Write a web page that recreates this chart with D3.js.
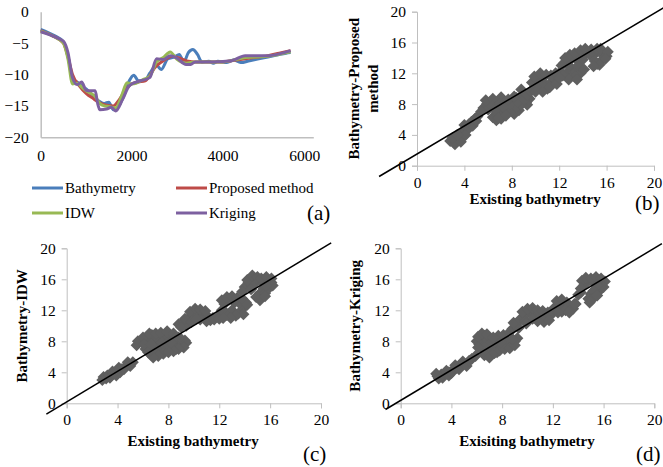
<!DOCTYPE html>
<html>
<head>
<meta charset="utf-8">
<script src="https://cdn.jsdelivr.net/npm/d3@7"></script>
<style>
  body { margin: 0; background: #fff; }
  svg text { font-family: "Liberation Serif", "Times New Roman", serif; fill: #000; }
  .axis path, .axis line { stroke: #bfbfbf; }
  .axis text { font-size: 15.5px; font-family: "Liberation Serif", serif; }
  .title { font-weight: bold; font-size: 15px; }
  .panel { font-size: 21px; }
</style>
</head>
<body>
<div id="chart"></div>
<script>

// panel (a): profile along the transect, x = distance
var distBathy = [0, 300, 500, 600, 700, 800, 900, 1000, 1200, 1400, 1500, 1600, 1750, 1850, 1950, 2050, 2150, 2300, 2400, 2550, 2650, 2800, 2950, 3050, 3150, 3250, 3350, 3450, 3550, 3700, 3800, 3900, 4100, 4250, 4400, 4600, 4800, 5000, 5200, 5400, 5500];
var depthBathy = [-2.8, -3.8, -4.8, -7, -10.8, -11.2, -11.8, -12.3, -13.8, -14.6, -14.4, -15.6, -14.6, -13, -11, -10.1, -11, -10.9, -9.8, -8.5, -9.2, -7.5, -7.2, -6.8, -8, -6.5, -6.0, -6.8, -8, -7.9, -8.2, -7.9, -8.1, -7.7, -8.1, -7.8, -7.5, -7.2, -6.9, -6.6, -6.5];

var distProposed = [0, 250, 500, 600, 700, 850, 1000, 1150, 1300, 1450, 1600, 1700, 1800, 1900, 2000, 2150, 2300, 2400, 2500, 2600, 2700, 2900, 3100, 3250, 3400, 3700, 4000, 4300, 4500, 4800, 5000, 5250, 5500];
var depthProposed = [-3, -3.8, -5, -7.2, -10, -11.8, -13, -13.8, -14.5, -14.9, -15, -14.3, -13.2, -12.2, -11.5, -11.2, -11, -10.2, -9, -8.3, -7.8, -7.1, -7.5, -7.9, -8, -8, -8, -7.7, -7.5, -7.2, -7, -6.6, -6.2];

var distIDW = [0, 300, 500, 600, 700, 800, 900, 1000, 1100, 1200, 1300, 1400, 1500, 1650, 1750, 1800, 1900, 2000, 2100, 2250, 2400, 2550, 2700, 2850, 3000, 3200, 3400, 3700, 4000, 4300, 4500, 5000, 5500];
var depthIDW = [-3.1, -4, -5, -7.5, -11.5, -11.4, -12, -12.6, -13, -13.5, -14.6, -15, -15.1, -15.3, -14, -13, -11.3, -11.5, -11.4, -10.8, -10.3, -8, -7.3, -6.4, -7.6, -8.2, -8, -8, -8, -7.6, -7.3, -7.1, -6.4];

var distKriging = [0, 400, 500, 600, 700, 800, 900, 1000, 1100, 1200, 1250, 1300, 1450, 1550, 1650, 1800, 1950, 2100, 2200, 2400, 2550, 2700, 2850, 3000, 3200, 3300, 3400, 3700, 4200, 4500, 5000, 5500];
var depthKriging = [-3.2, -4.3, -4.7, -6.5, -10.5, -11.6, -11.2, -12.5, -12.6, -12.6, -14.5, -15.6, -15.5, -15.2, -15.8, -14, -11.8, -11.2, -11, -10.5, -7.5, -7.6, -7.0, -7.4, -8.4, -8.4, -8, -8, -7.8, -7.0, -7, -6.2];

var profileXTicks = [0, 2000, 4000, 6000];
var profileYTicks = [0, -5, -10, -15, -20];
var seriesNames = ["Bathymetry", "Proposed method", "IDW", "Kriging"];
var seriesColors = ["#4a7ebb", "#be4b48", "#98b954", "#7d60a0"];

// panels (b)-(d): existing bathymetry vs predicted depth
var scatterTicks = [0, 4, 8, 12, 16, 20];

var proposedPoints = [
  [2.8,3.2],[3.1,3.0],[3.3,3.5],[3.6,3.4],[3.5,3.9],[3.9,3.8],[3.8,4.3],[4.1,4.5],[4.2,5.0],[4.4,5.4],
  [4.6,5.7],[4.9,6.1],[5.1,6.4],[3.2,2.8],[3.7,3.1],[4.1,4.0],
  [3.0,3.6],[3.4,4.0],[4.4,4.9],[4.7,5.2],[5.0,5.8],[4.0,5.3],
  [5.6,7.5],[5.9,8.0],[6.2,8.3],[6.5,8.1],[6.9,8.4],[6.0,7.3],[7.1,8.9],
  [5.4,7.0],[5.8,8.5],[6.4,8.7],[6.3,7.7],[6.7,7.6],[7.0,7.2],[7.0,8.0],[7.4,8.2],[7.8,7.5],
  [8.1,8.4],[8.4,8.8],[8.7,8.9],[9.2,8.2],[9.5,8.7],[6.7,5.9],[7.1,6.1],[8.2,6.7],[8.6,7.2],[9.3,7.9],
  [6.4,6.3],[6.8,6.6],[7.2,6.9],[7.6,7.0],[8.0,7.2],[8.4,7.6],[8.8,7.9],[6.6,7.2],[7.3,7.6],[7.9,8.0],
  [8.5,8.3],[9.0,8.6],[7.7,8.6],[8.2,9.0],[8.8,9.9],[9.3,9.2],[9.6,9.7],[6.9,6.2],[7.5,6.5],
  [9.7,10.8],[10.1,11.2],[10.3,10.2],[10.7,10.7],[11.0,10.0],[11.3,10.8],[11.6,11.3],[10.5,11.5],[11.9,11.5],[10.0,10.3],
  [9.9,11.6],[10.4,12.0],[10.9,11.8],[11.3,11.7],[11.7,12.0],[11.2,10.2],[10.6,9.6],[10.0,9.6],[11.8,10.6],
  [12.1,12.2],[12.4,13.3],[12.7,13.8],[13.1,14.0],[13.5,14.3],[13.9,14.5],[14.3,14.7],[14.7,15.1],
  [12.6,12.0],[13.0,12.5],[13.4,12.2],[13.8,12.0],[13.3,11.6],[12.3,11.7],[12.8,13.0],[13.6,13.6],
  [12.2,13.0],[12.5,14.0],[12.9,14.4],[13.3,14.6],[13.8,15.0],[14.2,15.2],[14.6,14.4],[14.0,13.8],
  [13.6,13.0],[14.1,12.5],[12.8,11.2],[13.5,11.2],[12.0,11.4],
  [15.0,14.5],[15.4,14.8],[15.8,14.6],[16.0,14.2],[15.6,13.7],[15.2,13.2],[15.0,13.6],[15.2,15.2],
  [15.5,15.2],[16.1,14.8],[15.9,13.9],[15.4,13.1],[14.9,12.9]
];

var idwPoints = [
  [2.9,3.4],[3.2,3.6],[3.5,3.6],[3.7,3.9],[3.4,3.3],[4.0,4.1],[4.3,4.4],[4.6,4.7],[4.9,5.0],[5.2,5.3],[3.1,3.2],[3.9,3.6],
  [2.8,3.0],[3.6,4.1],[4.2,4.0],[4.5,4.4],[4.8,5.3],[5.0,4.8],[4.1,4.6],
  [5.5,7.5],[5.9,7.9],[6.3,8.5],[6.7,8.8],[6.4,7.4],[6.8,7.9],[7.2,8.3],[7.6,8.7],[8.0,8.9],[7.8,8.2],
  [8.3,8.0],[8.7,7.8],[9.1,7.6],[9.3,8.1],[6.6,6.3],[7.0,6.6],[7.4,6.8],[7.8,7.1],[8.2,7.3],[8.6,7.0],
  [7.3,7.5],[6.9,7.1],[6.2,7.0],[7.6,6.4],[8.8,8.5],
  [5.6,8.0],[6.0,8.5],[6.1,7.6],[6.5,9.0],[7.0,9.0],[7.4,9.1],[7.9,9.3],[8.4,9.0],[8.6,8.5],[9.0,8.3],
  [9.4,7.8],[9.2,7.2],[8.8,7.0],[8.4,6.7],[8.0,6.6],[7.2,6.1],[6.8,5.9],[6.4,6.6],[6.6,7.6],[7.5,7.8],[7.9,7.7],[8.2,7.8],
  [8.8,10.2],[9.2,10.6],[9.6,11.0],[9.9,11.5],[10.3,11.8],[10.7,11.6],[11.1,11.2],[11.5,11.0],[11.9,11.2],
  [12.3,11.4],[10.5,10.8],[11.3,10.7],[9.4,10.0],[10.1,12.0],
  [9.0,9.8],[9.3,10.9],[9.7,11.8],[10.1,12.2],[10.5,12.1],[10.9,11.9],[11.0,10.6],[11.6,10.8],[12.0,10.9],[12.5,11.7],[9.8,10.5],[10.2,10.9],
  [12.4,12.8],[12.8,13.4],[13.2,13.0],[13.0,12.0],[13.5,11.6],[13.9,12.3],[14.1,13.0],[12.6,11.4],[13.6,12.9],[12.2,12.0],
  [12.2,13.3],[12.6,13.7],[13.0,13.8],[13.4,13.6],[13.8,13.5],[14.2,12.7],[13.9,11.5],[13.3,11.3],[12.9,11.0],[12.3,11.0],
  [14.0,15.0],[14.3,15.6],[14.6,16.0],[15.0,15.8],[15.4,15.6],[15.8,15.8],[16.1,15.6],[15.5,14.8],
  [15.2,14.2],[14.9,13.7],[15.6,14.2],[16.0,15.0],[14.6,15.2],
  [13.8,14.4],[14.2,15.9],[14.6,16.5],[15.0,16.3],[15.3,16.1],[15.7,16.3],[16.1,16.1],[16.2,15.2],[15.7,15.2],[15.2,13.3],[15.6,13.8],[14.5,14.7]
];

var krigingPoints = [
  [2.9,3.5],[3.2,3.7],[3.5,3.8],[3.3,3.3],[3.8,4.0],[4.1,4.3],[4.4,4.6],[4.7,4.9],[5.0,5.1],[3.0,3.2],[3.8,3.6],
  [2.8,3.8],[3.6,4.2],[4.0,3.9],[4.3,4.9],[4.6,4.4],[4.9,5.4],[5.2,4.8],[5.4,5.5],
  [5.6,5.7],[5.9,6.1],
  [6.2,7.6],[6.3,8.3],[6.6,8.7],[6.9,8.2],[6.4,7.0],[6.8,6.6],[7.2,6.9],[7.6,7.2],[8.0,7.5],[7.5,8.0],
  [7.9,8.3],[8.3,8.0],[8.7,7.6],[9.0,8.0],[8.6,8.6],[7.2,7.6],[7.0,6.3],[7.6,6.6],[6.6,7.8],[8.3,7.3],
  [6.0,8.0],[6.1,8.6],[6.4,9.0],[6.8,8.9],[7.0,7.6],[6.6,7.3],[6.1,7.2],[6.6,6.2],[7.0,5.9],[7.4,6.5],
  [7.8,6.8],[8.2,7.0],[8.6,7.1],[9.0,7.5],[9.2,8.4],[8.8,8.3],[8.4,8.4],[7.7,8.7],[8.1,8.8],[7.3,8.5],[7.9,7.8],
  [8.8,9.6],[9.1,10.2],[8.6,9.2],[9.3,9.7],[8.9,10.4],
  [9.4,10.8],[9.8,11.4],[10.2,11.8],[10.6,11.6],[11.0,11.2],[11.4,11.0],[11.8,11.3],[10.4,10.9],[9.8,10.6],
  [9.6,11.8],[10.0,12.2],[10.4,12.3],[10.8,12.0],[11.2,11.9],[11.6,11.7],[12.0,11.9],[11.3,10.5],[11.7,10.7],[10.8,10.6],[9.9,10.3],
  [12.1,12.3],[12.5,12.8],[12.9,12.4],[13.3,12.6],[13.6,12.2],[12.7,11.8],[13.1,13.0],[13.8,12.8],
  [12.3,13.2],[12.7,13.4],[13.0,12.0],[13.4,12.0],[13.7,12.8],[12.4,11.7],[13.3,11.7],
  [14.2,14.3],[14.5,15.3],[14.8,15.8],[15.2,15.6],[15.6,15.9],[15.9,15.6],[15.4,14.8],[15.0,14.1],
  [14.8,13.5],[15.6,14.4],[14.5,15.8],[15.8,15.0],
  [14.0,14.0],[14.3,15.8],[14.6,16.2],[15.0,16.1],[15.4,16.3],[15.8,16.1],[16.1,15.7],[16.0,15.0],
  [15.5,15.2],[15.2,14.5],[15.1,13.4],[14.9,13.0],[15.5,13.9],[14.2,14.8]
];

// 1:1 reference lines, end points in data units
var lineProposed = [[-3.2, -1.4], [20.8, 20.5]];
var lineIDW = [[-1.6, -1.4], [20.8, 20.7]];
var lineKriging = [[-1.2, -0.8], [20.6, 20.6]];


var svg = d3.select("#chart").append("svg")
    .attr("width", 663)
    .attr("height", 467);

drawProfile();

drawScatter({
  left: 417, top: 11.7, width: 237, height: 154,
  points: proposedPoints, line: lineProposed,
  yTitle: ["Bathymetry-Proposed", "method"], yTitleX: 363,
  xTitle: "Existing bathymetry", xTitleX: 535, xTitleY: 204,
  label: "(b)", labelX: 635, labelY: 210
});

drawScatter({
  left: 66.7, top: 248.3, width: 254.3, height: 155,
  points: idwPoints, line: lineIDW,
  yTitle: ["Bathymetry-IDW"], yTitleX: 31,
  xTitle: "Existing bathymetry", xTitleX: 193, xTitleY: 446,
  label: "(c)", labelX: 303, labelY: 461
});

drawScatter({
  left: 400.7, top: 248.3, width: 253.6, height: 155,
  points: krigingPoints, line: lineKriging,
  yTitle: ["Bathymetry-Kriging"], yTitleX: 364,
  xTitle: "Exisiting bathymetry", xTitleX: 527, xTitleY: 446,
  label: "(d)", labelX: 636, labelY: 461
});


function drawProfile() {
    var left = 40.7, top = 11.7, width = 272.6, height = 125.6;

    var x = d3.scaleLinear().domain([0, 6000]).range([0, width]);
    var y = d3.scaleLinear().domain([-20, 0]).range([height, 0]);

    var g = svg.append("g")
        .attr("transform", "translate(" + left + "," + top + ")");

    g.append("g")
        .attr("class", "axis")
        .attr("transform", "translate(0," + height + ")")
        .call(d3.axisBottom(x).tickValues(profileXTicks).tickSize(0).tickPadding(13).tickFormat(d3.format("d")))
        .call(function(a) { a.select(".domain").attr("stroke", "#bfbfbf").attr("stroke-width", 1.5); });

    g.append("g")
        .attr("class", "axis")
        .call(d3.axisLeft(y).tickValues(profileYTicks).tickSize(0).tickPadding(12).tickFormat(d3.format("d")))
        .call(function(a) { a.select(".domain").attr("stroke", "#bfbfbf").attr("stroke-width", 1.5); });

    // Excel puts the last label inside the chart area
    g.selectAll(".axis text")
        .filter(function(d) { return d === 6000; })
        .attr("dx", "-9");

    var series = [
      {x: distBathy, y: depthBathy},
      {x: distProposed, y: depthProposed},
      {x: distIDW, y: depthIDW},
      {x: distKriging, y: depthKriging}
    ];

    var line = d3.line()
        .x(function(d) { return x(d[0]); })
        .y(function(d) { return y(d[1]); })
        .curve(d3.curveMonotoneX);

    series.forEach(function(s, i) {
        g.append("path")
            .datum(d3.zip(s.x, s.y))
            .attr("fill", "none")
            .attr("stroke", seriesColors[i])
            .attr("stroke-width", 3)
            .attr("stroke-linejoin", "round")
            .attr("d", line);
    });

    // legend, two by two
    var legX = [32, 176], legY = [188, 213];
    seriesNames.forEach(function(name, i) {
        var lx = legX[i % 2], ly = legY[Math.floor(i / 2)];
        svg.append("line")
            .attr("x1", lx).attr("x2", lx + 31)
            .attr("y1", ly).attr("y2", ly)
            .attr("stroke", seriesColors[i])
            .attr("stroke-width", 3);
        svg.append("text")
            .attr("x", lx + 33)
            .attr("y", ly + 5)
            .style("font-size", "15px")
            .text(name);
    });

    svg.append("text")
        .attr("class", "panel")
        .attr("x", 307)
        .attr("y", 220)
        .text("(a)");
}


function drawScatter(c) {
    var x = d3.scaleLinear().domain([0, 20]).range([0, c.width]);
    var y = d3.scaleLinear().domain([0, 20]).range([c.height, 0]);

    var g = svg.append("g")
        .attr("transform", "translate(" + c.left + "," + c.top + ")");

    g.append("g")
        .attr("class", "axis")
        .attr("transform", "translate(0," + c.height + ")")
        .call(d3.axisBottom(x).tickValues(scatterTicks).tickSizeOuter(0).tickSize(5).tickPadding(6));

    g.append("g")
        .attr("class", "axis")
        .call(d3.axisLeft(y).tickValues(scatterTicks).tickSizeOuter(0).tickSize(5).tickPadding(6));

    // diamond markers
    var diamond = d3.symbol().type(d3.symbolSquare).size(72);
    g.append("g")
        .selectAll("path")
        .data(c.points)
        .enter().append("path")
        .attr("d", diamond)
        .attr("fill", "#5f5f5f")
        .attr("transform", function(d) {
            return "translate(" + x(d[0]) + "," + y(d[1]) + ") rotate(45)";
        });

    g.append("path")
        .datum(c.line)
        .attr("fill", "none")
        .attr("stroke", "#000")
        .attr("stroke-width", 1.5)
        .attr("d", d3.line()
            .x(function(d) { return x(d[0]); })
            .y(function(d) { return y(d[1]); }));

    // rotated y title, one or two lines
    var cy = c.top + c.height / 2;
    c.yTitle.forEach(function(t, i) {
        svg.append("text")
            .attr("class", "title")
            .attr("text-anchor", "middle")
            .attr("transform", "translate(" + (c.yTitleX - 4 + i * 19) + "," + cy + ") rotate(-90)")
            .text(t);
    });

    svg.append("text")
        .attr("class", "title")
        .attr("text-anchor", "middle")
        .attr("x", c.xTitleX)
        .attr("y", c.xTitleY)
        .text(c.xTitle);

    svg.append("text")
        .attr("class", "panel")
        .attr("x", c.labelX)
        .attr("y", c.labelY)
        .text(c.label);
}

</script>
</body>
</html>
